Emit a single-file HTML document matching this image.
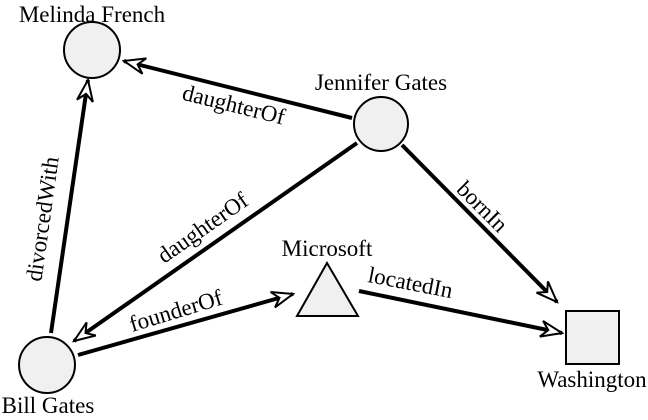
<!DOCTYPE html>
<html><head><style>
body{margin:0;background:#fff;}
svg text{font-family:"Liberation Serif",serif;font-size:23px;fill:#000;}
</style></head><body>
<svg width="648" height="415" viewBox="0 0 648 415" xmlns="http://www.w3.org/2000/svg">
<defs>
<marker id="a" markerWidth="24" markerHeight="18" refX="22" refY="9" orient="auto" markerUnits="userSpaceOnUse">
<path d="M1,1 L22,9 L1,17 L8,9 Z" fill="#fff" stroke="#000" stroke-width="2"/>
</marker>
</defs>
<g stroke="#000" stroke-width="4" fill="none">
<line x1="352" y1="118" x2="124" y2="61" marker-end="url(#a)"/>
<line x1="357" y1="143" x2="74" y2="341" marker-end="url(#a)"/>
<line x1="402" y1="145" x2="557" y2="302" marker-end="url(#a)"/>
<line x1="51" y1="333" x2="88" y2="80" marker-end="url(#a)"/>
<line x1="78" y1="355" x2="293" y2="294" marker-end="url(#a)"/>
<line x1="359" y1="291" x2="562" y2="333" marker-end="url(#a)"/>
</g>
<g fill="#f0f0f0" stroke="#000" stroke-width="2">
<circle cx="92" cy="50" r="28"/>
<circle cx="381" cy="124" r="27"/>
<circle cx="47" cy="365" r="28"/>
<polygon points="327,263 297,316 358,316"/>
<rect x="566" y="311" width="53" height="53"/>
</g>
<text x="92" y="22" text-anchor="middle">Melinda French</text>
<text x="381" y="90" text-anchor="middle">Jennifer Gates</text>
<text x="48" y="413" text-anchor="middle">Bill Gates</text>
<text x="327" y="256" text-anchor="middle">Microsoft</text>
<text x="592" y="387" text-anchor="middle">Washington</text>
<text transform="translate(232,112) rotate(14)" text-anchor="middle">daughterOf</text>
<text transform="translate(207,234) rotate(-35)" text-anchor="middle">daughterOf</text>
<text transform="translate(477,212) rotate(45)" text-anchor="middle">bornIn</text>
<text transform="translate(50,220) rotate(-82)" text-anchor="middle">divorcedWith</text>
<text transform="translate(178,318) rotate(-17)" text-anchor="middle">founderOf</text>
<text transform="translate(409,290) rotate(11)" text-anchor="middle">locatedIn</text>
</svg>
</body></html>
